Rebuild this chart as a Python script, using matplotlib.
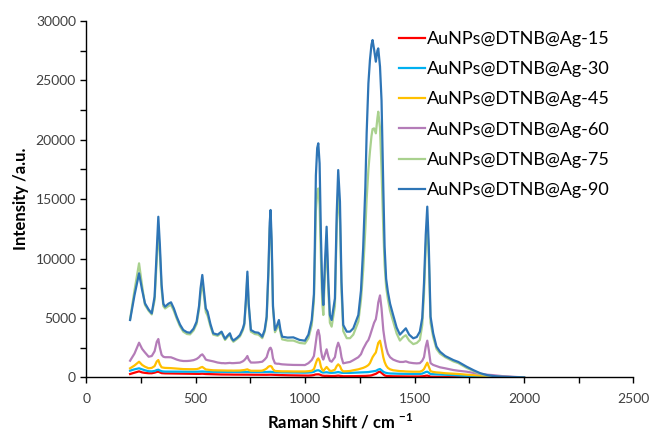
import matplotlib
matplotlib.use("Agg")
import matplotlib.pyplot as plt
from matplotlib.ticker import MultipleLocator

plt.rcParams['font.family'] = ['Lato', 'DejaVu Sans']
plt.rcParams['mathtext.fontset'] = 'custom'
plt.rcParams['mathtext.rm'] = 'Lato'
plt.rcParams['mathtext.bf'] = 'Lato:bold'

# Raman shift (cm-1) sample positions
shift = [
    200, 220, 241, 255, 268, 285, 299, 312, 322, 329, 336, 344, 352, 360,
    375, 387, 400, 413, 428, 443, 460, 474, 490, 504, 515, 522, 530, 538, 546, 554, 567, 580, 600,
    618, 627, 634, 645, 656, 664, 672, 690, 702, 715, 722, 729, 736, 742, 752, 770, 786, 796, 804,
    815, 824, 832, 838, 842, 847, 853, 862, 872, 880, 887, 895, 920, 946, 975, 999, 1015, 1030,
    1040, 1044, 1049, 1055, 1060, 1066, 1072, 1078, 1083, 1090, 1098, 1106, 1113, 1121, 1136, 1144, 1151, 1159, 1166, 1174,
    1190, 1205, 1220, 1243, 1255, 1265, 1275, 1281, 1289, 1296, 1303, 1308, 1315, 1323, 1330, 1334, 1342, 1349, 1357, 1363, 1370, 1378, 1388, 1402,
    1418, 1433, 1448, 1460, 1475, 1494, 1510, 1524, 1535, 1543, 1551, 1558, 1565, 1573, 1585, 1600, 1616, 1640, 1677, 1700, 1738, 1770, 1799, 1830, 1859, 1900, 1950, 2000,
]

ag90 = [
    4830, 6900, 8760, 7350, 6235, 5700, 5390, 6800, 10800, 13520, 11200, 7800, 6200, 5950,
    6200, 6320, 5800, 5110, 4450, 3990, 3800, 3760, 4100, 4690, 6000, 7500, 8620, 7200, 5800, 5530, 4500, 3710, 3600,
    3850, 3500, 3250, 3500, 3710, 3300, 3100, 3350, 3570, 4100, 4550, 6500, 8900, 6200, 3990, 3800, 3760, 3600, 3425,
    4000, 5110, 9000, 13000, 14090, 11500, 6000, 3990, 4400, 4830, 4000, 3425, 3350, 3370, 3150, 3090, 3600, 4830,
    7000, 10860, 17000, 19300, 19700, 18000, 12000, 7500, 6090, 9460, 12680, 8050, 5250, 4830, 6650, 13670, 17450, 14790, 8050, 4410,
    3850, 3850, 4130, 5250, 7300, 10860, 16000, 20560, 24750, 26700, 28000, 28390, 27600, 26570, 27500, 27690, 26150, 23300, 16000, 11000, 8300, 7200, 6200, 5250,
    4200, 3600, 3900, 4130, 3600, 3290, 3400, 3850, 5000, 7920, 12000, 14370, 11000, 5110, 3710, 2600, 2165, 1800, 1460, 1300, 900, 600, 360, 200, 118, 60, 30, 0,
]

ag75 = [
    4900, 7300, 9600, 7700, 6100, 5600, 5300, 6500, 10000, 12300, 10500, 7400, 6000, 5800,
    6000, 6100, 5600, 4950, 4300, 3850, 3650, 3620, 3950, 4500, 5700, 7000, 8000, 6800, 5500, 5200, 4300, 3600, 3500,
    3750, 3400, 3150, 3400, 3600, 3200, 3000, 3250, 3450, 3950, 4400, 6200, 8500, 6000, 3850, 3650, 3600, 3450, 3300,
    3850, 4900, 8600, 12500, 13300, 11000, 5800, 3800, 4150, 4500, 3800, 3200, 3100, 3100, 2900, 2850, 3300, 4400,
    6400, 9500, 14000, 15500, 15900, 14500, 10000, 6300, 5250, 8500, 11500, 7300, 4600, 4270, 6000, 12500, 15700, 13300, 7300, 3900,
    3300, 3300, 3600, 4700, 6500, 9000, 12500, 15000, 17500, 19000, 20300, 20900, 20960, 20540, 21800, 22360, 21000, 17500, 12500, 9500, 7600, 6600, 5600, 4700,
    3700, 3100, 3400, 3550, 3100, 2800, 2900, 3150, 4400, 7000, 11000, 13000, 10000, 4600, 3400, 2400, 2000, 1700, 1350, 1200, 800, 530, 300, 160, 90, 40, 20, 0,
]

ag60 = [
    1405, 2000, 2920, 2400, 2100, 1740, 1800, 2200, 3000, 3230, 2500, 1900, 1740, 1700,
    1700, 1690, 1600, 1500, 1420, 1380, 1380, 1400, 1450, 1550, 1700, 1850, 1940, 1750, 1500, 1450, 1400, 1350, 1250,
    1200, 1200, 1185, 1200, 1220, 1200, 1200, 1220, 1240, 1350, 1450, 1600, 1800, 1500, 1250, 1250, 1270, 1300, 1320,
    1500, 1700, 2200, 2450, 2500, 2300, 1600, 1185, 1150, 1150, 1120, 1100, 1070, 1050, 1040, 1040, 1200, 1460,
    1800, 2300, 3000, 3800, 4000, 3500, 2300, 1700, 1500, 1900, 2365, 1750, 1400, 1320, 1700, 2500, 2920, 2500, 1700, 1185,
    1250, 1300, 1450, 1700, 1950, 2400, 2750, 2950, 3150, 3500, 3900, 4200, 4600, 4900, 5700, 6300, 6900, 5800, 4000, 3200, 2500, 2000, 1700, 1500,
    1380, 1300, 1300, 1350, 1250, 1200, 1180, 1200, 1400, 1700, 2600, 3090, 2300, 1200, 1050, 950, 850, 765, 620, 560, 480, 380, 300, 230, 190, 110, 50, 0,
]

ag45 = [
    765, 1000, 1320, 1050, 900, 765, 800, 950, 1350, 1460, 1100, 850, 820, 800,
    790, 780, 760, 740, 720, 700, 690, 690, 690, 700, 750, 830, 880, 780, 670, 650, 620, 600, 590,
    580, 580, 570, 575, 580, 575, 570, 575, 580, 600, 620, 650, 680, 620, 560, 560, 560, 560, 570,
    650, 750, 900, 950, 960, 900, 680, 540, 530, 530, 520, 510, 510, 500, 500, 500, 520, 560,
    700, 900, 1200, 1500, 1600, 1400, 900, 650, 550, 700, 880, 700, 560, 540, 650, 950, 1100, 950, 650, 510,
    520, 540, 600, 680, 750, 800, 880, 940, 1040, 1200, 1500, 1700, 1900, 2100, 2600, 2900, 3090, 2500, 1700, 1300, 1000, 800, 680, 600,
    560, 530, 520, 500, 490, 480, 480, 480, 560, 700, 1000, 1240, 900, 520, 460, 420, 400, 350, 310, 290, 230, 190, 150, 130, 110, 60, 20, 0,
]

ag30 = [
    565, 680, 765, 680, 600, 520, 510, 540, 620, 650, 580, 520, 500, 490,
    490, 490, 490, 490, 485, 480, 480, 480, 480, 480, 490, 495, 500, 490, 480, 475, 470, 470, 470,
    465, 465, 460, 460, 460, 460, 455, 455, 455, 455, 455, 455, 460, 455, 450, 450, 450, 450, 450,
    450, 455, 465, 470, 470, 460, 440, 430, 430, 430, 425, 420, 415, 410, 405, 400, 410, 430,
    470, 520, 560, 590, 600, 560, 480, 420, 410, 420, 430, 410, 390, 385, 400, 430, 450, 420, 390, 380,
    380, 380, 390, 400, 410, 420, 430, 440, 450, 470, 490, 510, 530, 550, 620, 660, 705, 600, 480, 420, 380, 350, 330, 320,
    310, 305, 300, 300, 295, 290, 290, 290, 320, 380, 450, 480, 400, 280, 270, 260, 250, 220, 190, 160, 120, 90, 60, 40, 20, 5, 0, 0,
]

ag15 = [
    286, 400, 510, 420, 380, 350, 350, 400, 460, 480, 420, 360, 350, 340,
    335, 330, 325, 320, 315, 310, 305, 300, 295, 290, 295, 300, 310, 295, 285, 280, 270, 260, 250,
    245, 245, 240, 240, 240, 235, 235, 235, 230, 230, 230, 230, 235, 230, 225, 225, 222, 220, 220,
    220, 220, 225, 230, 230, 225, 215, 210, 205, 200, 195, 190, 180, 170, 160, 150, 150, 170,
    200, 230, 250, 260, 260, 240, 190, 150, 140, 130, 135, 125, 120, 115, 120, 140, 150, 130, 110, 100,
    100, 100, 105, 110, 115, 120, 125, 130, 140, 150, 170, 200, 250, 300, 380, 440, 480, 380, 250, 170, 130, 110, 100, 95,
    90, 85, 85, 85, 80, 80, 80, 80, 90, 110, 140, 150, 120, 60, 55, 50, 45, 40, 30, 20, 10, 5, 0, 0, 0, 0, 0, 0,
]

labels = ["AuNPs@DTNB@Ag-15", "AuNPs@DTNB@Ag-30", "AuNPs@DTNB@Ag-45",
          "AuNPs@DTNB@Ag-60", "AuNPs@DTNB@Ag-75", "AuNPs@DTNB@Ag-90"]
series = [ag15, ag30, ag45, ag60, ag75, ag90]
colors = ["#FF0000", "#00B0F0", "#FFC000", "#B47CB8", "#A9D18E", "#2E75B6"]

for s in series:
    assert len(s) == len(shift), (len(s), len(shift))

fig = plt.figure(figsize=(6.49, 4.36), dpi=100)
ax = fig.add_axes([0.133, 0.1344, 0.843, 0.8176])

for s, c, lab in zip(series, colors, labels):
    ax.plot(shift, s, color=c, lw=1.6, label=lab, solid_joinstyle='round')

ax.set_xlim(0, 2500)
ax.set_ylim(0, 30000)
ax.xaxis.set_major_locator(MultipleLocator(500))
ax.xaxis.set_minor_locator(MultipleLocator(250))
ax.yaxis.set_major_locator(MultipleLocator(5000))
ax.yaxis.set_minor_locator(MultipleLocator(2500))
ax.tick_params(which='both', direction='out', length=4, width=1, color='black')
ax.tick_params(which='major', labelsize=10, labelcolor='#404040')
ax.tick_params(axis='x', which='major', pad=7)
for side in ['top', 'right']:
    ax.spines[side].set_visible(False)
for side in ['left', 'bottom']:
    ax.spines[side].set_linewidth(1.0)
    ax.spines[side].set_color('black')

ax.set_ylabel("Intensity /a.u.", fontsize=12, fontweight='bold', labelpad=5)
ax.set_xlabel(r"Raman Shift / cm $^{\mathbf{-1}}$", fontsize=12, fontweight='bold')
ax.xaxis.set_label_coords(0.465, -0.098)

leg = ax.legend(loc='upper left', bbox_to_anchor=(0.572, 0.972), frameon=False,
                fontsize=13, handlelength=1.4, handletextpad=0.15, labelspacing=0.79,
                borderpad=0, borderaxespad=0)

fig.savefig("out.png", dpi=100)
